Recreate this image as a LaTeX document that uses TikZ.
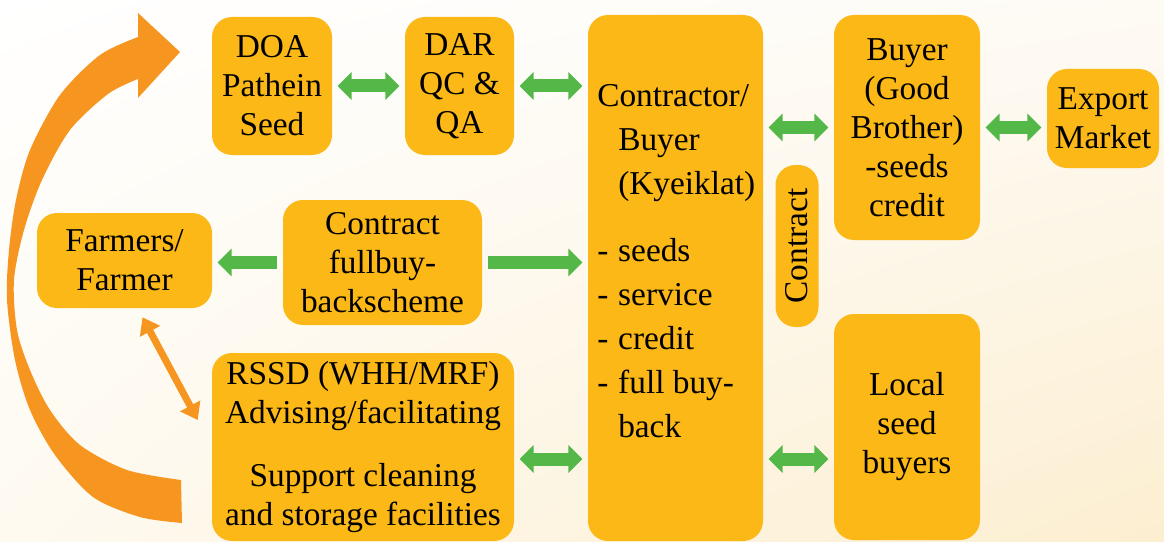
\documentclass[tikz,border=0pt]{standalone}
\usepackage{fontspec}
\setmainfont{Liberation Serif}
\usetikzlibrary{arrows.meta,calc,shadings}
\definecolor{boxfill}{RGB}{251,184,22}
\definecolor{linkgreen}{RGB}{84,184,72}
\definecolor{loopor}{RGB}{246,150,33}
\definecolor{bgur}{RGB}{254,251,245}
\definecolor{bgll}{RGB}{254,250,240}
\definecolor{bglr}{RGB}{252,238,208}
\tikzset{
	box/.style={fill=boxfill, rounded corners=15pt, align=center, inner sep=0pt, font=\fontsize{25}{29.25}\selectfont},
	link/.style={draw=linkgreen, line width=9.75pt, shorten <=4pt, shorten >=4pt},
	both/.style={link, {Triangle[length=10.5pt,width=20.25pt]}-{Triangle[length=10.5pt,width=20.25pt]}},
	one/.style={link, -{Triangle[length=10.5pt,width=20.25pt]}},
	advice/.style={draw=loopor, line width=5.25pt, {Triangle[length=12pt,width=16.5pt]}-{Triangle[length=12pt,width=16.5pt]}}
}
\begin{document}
\begin{tikzpicture}[x=0.75pt,y=-0.75pt]
	\useasboundingbox (0,0) rectangle (1164,542);
	\shade[upper left=white, upper right=bgur, lower left=bgll, lower right=bglr] (0,0) rectangle (1164,542);

	\fill[loopor] (182,523) -- plot[smooth] coordinates {(182,523) (140,517) (93,497) (55,455) (30,410) (15,360) (7,300) (9,250) (16,200) (30,150) (60,95) (100,55) (138,37)}
		-- (138,13) -- (180,52) -- (138,98) -- (138,79)
		-- plot[smooth] coordinates {(138,79) (108,94) (70,130) (42,180) (24,230) (14,280) (17,330) (30,370) (50,410) (80,445) (127,470) (181,480)} -- cycle;

	\node[box, minimum width=90pt, minimum height=103.5pt] (doa) at (272,86) {DOA\\Pathein\\Seed};
	\node[box, minimum width=81.75pt, minimum height=103.5pt] (dar) at (459.5,86) {DAR\\QC \&\\QA};
	\node[box, minimum width=131.25pt, minimum height=394.5pt] (contractor) at (675.5,278) {};
	\node[anchor=base west, inner sep=0pt, font=\fontsize{25}{33}\selectfont] (contractorlist) at (597,107) {%
		\begin{tabular}[t]{@{}p{15.75pt}@{}l@{}}
			\multicolumn{2}{@{}l@{}}{Contractor/}\\
			& Buyer\\
			& (Kyeiklat)\\[17pt]
			- & seeds\\
			- & service\\
			- & credit\\
			- & full buy-\\
			& back
		\end{tabular}};
	\node[box, rotate=90, minimum width=121.5pt, minimum height=32.25pt] (contract) at (797,246) {Contract};
	\node[box, minimum width=109.5pt, minimum height=168.75pt] (buyer) at (907,127.5) {Buyer\\(Good\\Brother)\\-seeds\\credit};
	\node[box, minimum width=84pt, minimum height=74.25pt] (export) at (1103,118.5) {Export\\Market};
	\node[box, minimum width=131.25pt, minimum height=71.25pt] (farmers) at (124.5,260.5) {Farmers/\\Farmer};
	\node[box, minimum width=149.25pt, minimum height=93.75pt] (scheme) at (382.5,262.5) {Contract\\fullbuy-\\backscheme};
	\node[box, minimum width=226.5pt, minimum height=141pt] (rssd) at (363,447) {RSSD (WHH/MRF)\\Advising/facilitating\\[18pt]Support cleaning\\and storage facilities};
	\node[box, minimum width=109.5pt, minimum height=169.5pt] (local) at (907,427) {Local\\seed\\buyers};

	\draw[both] (doa.east) -- (dar.west);
	\draw[both] (dar.east) -- (dar.east -| contractor.west);
	\draw[both] (buyer.west -| contractor.east) -- (buyer.west);
	\draw[both] (buyer.east) -- (buyer.east -| export.west);
	\draw[one] (scheme.west) -- (scheme.west -| farmers.east);
	\draw[one] (scheme.east) -- (scheme.east -| contractor.west);
	\draw[both] ([yshift=-9pt]rssd.east) -- ([yshift=-9pt]rssd.east -| contractor.west);
	\draw[both] ([yshift=-24pt]local.west -| contractor.east) -- ([yshift=-24pt]local.west);
	\draw[advice] ($(farmers.south)+(18,9)$) -- ($(rssd.west)+(-14,-27)$);
\end{tikzpicture}
\end{document}
